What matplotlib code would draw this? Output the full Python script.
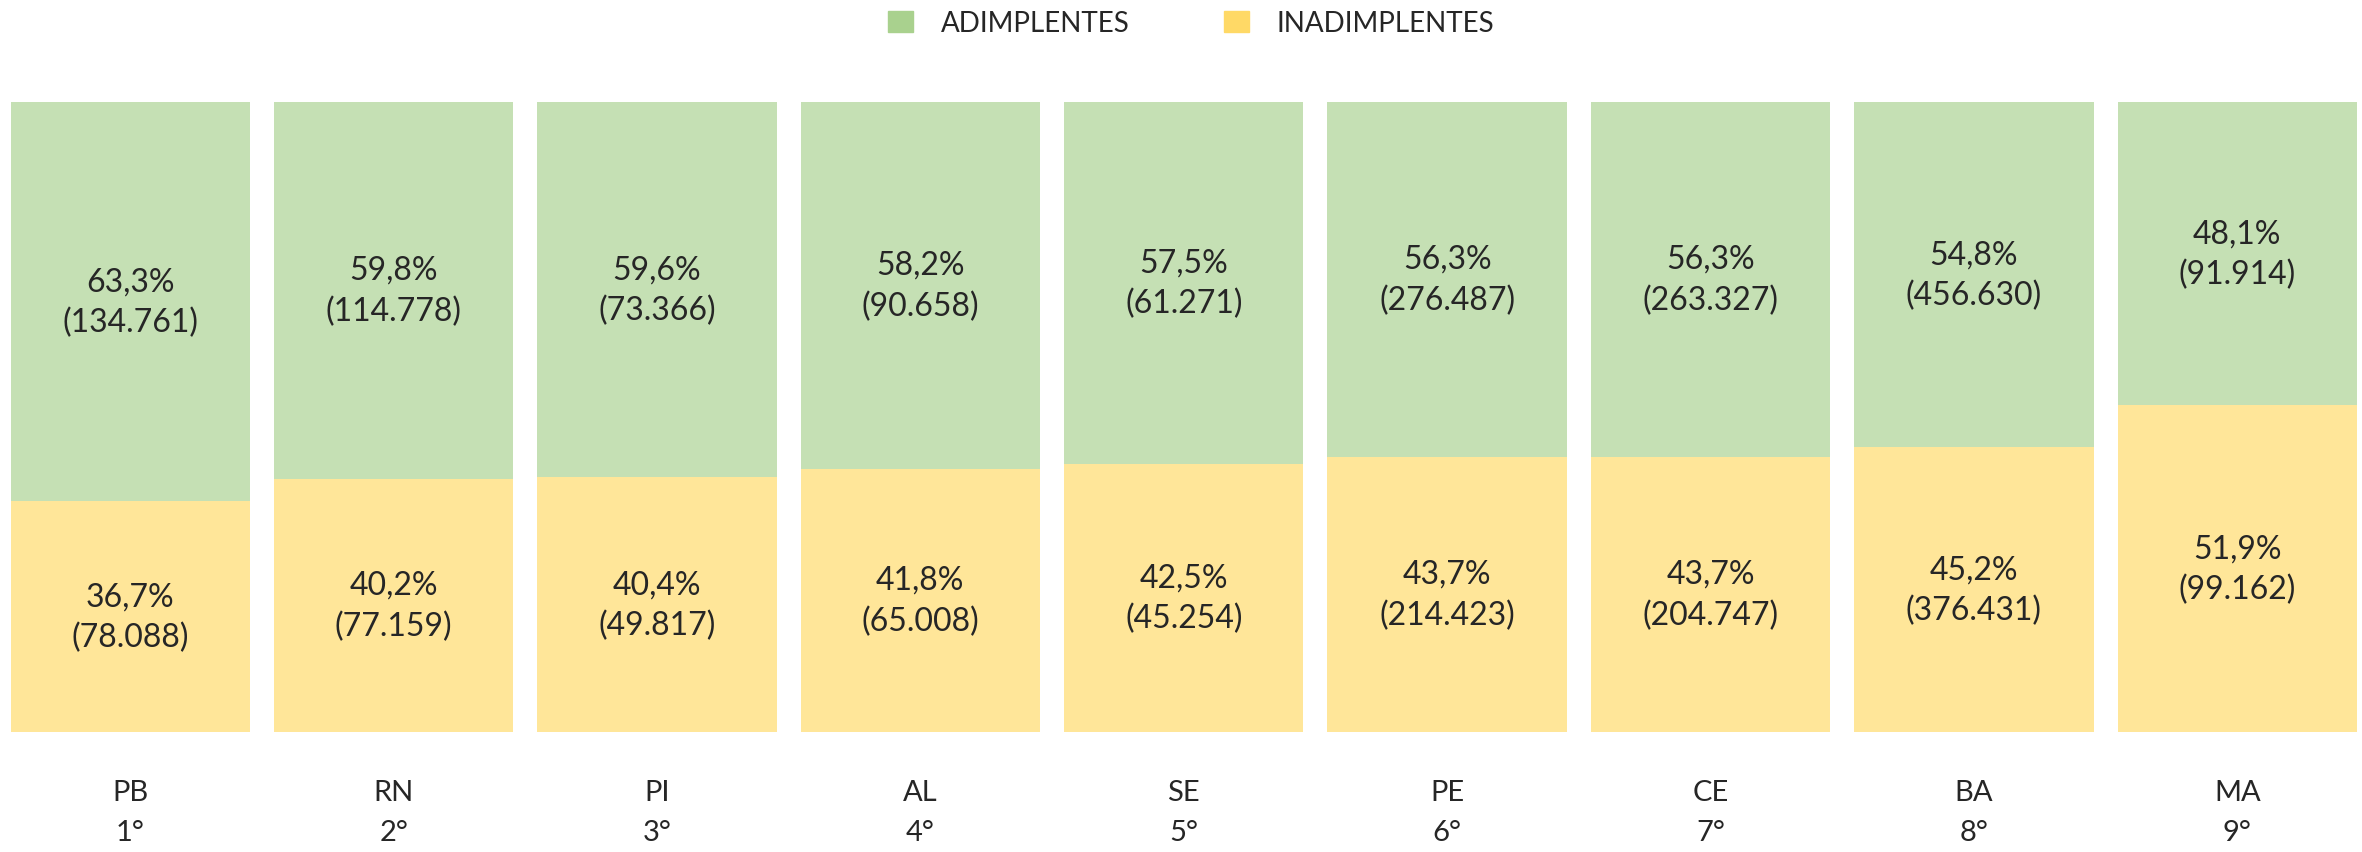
import matplotlib.pyplot as plt
import numpy as np
from matplotlib.patches import Patch

estados = ["PB", "RN", "PI", "AL", "SE", "PE", "CE", "BA", "MA"]
posicoes = ["1°", "2°", "3°", "4°", "5°", "6°", "7°", "8°", "9°"]
adimp_pct = [63.3, 59.8, 59.6, 58.2, 57.5, 56.3, 56.3, 54.8, 48.1]
inadimp_pct = [36.7, 40.2, 40.4, 41.8, 42.5, 43.7, 43.7, 45.2, 51.9]
adimp_n = [134761, 114778, 73366, 90658, 61271, 276487, 263327, 456630, 91914]
inadimp_n = [78088, 77159, 49817, 65008, 45254, 214423, 204747, 376431, 99162]

verde = "#C5E0B4"
amarelo = "#FFE699"
texto = "#262626"

plt.rcParams["font.family"] = ["Lato", "DejaVu Sans"]


def fmt_pct(v):
    return f"{v:.1f}%".replace(".", ",")


def fmt_n(v):
    return "(" + f"{v:,}".replace(",", ".") + ")"


fig = plt.figure(figsize=(23.62, 8.53), dpi=100)
ax = fig.add_axes([10.5 / 2362, 1 - 733 / 853, (2357 - 10.5) / 2362, 630 / 853])

x = np.arange(len(estados))
w = 0.909
ax.bar(x, inadimp_pct, width=w, color=amarelo)
ax.bar(x, adimp_pct, width=w, bottom=inadimp_pct, color=verde)

for i in range(len(estados)):
    ax.text(x[i], inadimp_pct[i] / 2, fmt_pct(inadimp_pct[i]) + "\n" + fmt_n(inadimp_n[i]),
            ha="center", va="center", fontsize=23, color=texto, linespacing=1.42)
    ax.text(x[i], inadimp_pct[i] + adimp_pct[i] / 2, fmt_pct(adimp_pct[i]) + "\n" + fmt_n(adimp_n[i]),
            ha="center", va="center", fontsize=23, color=texto, linespacing=1.42)

ax.set_xlim(-w / 2, len(estados) - 1 + w / 2)
ax.set_ylim(0, 100)
ax.set_xticks(x)
ax.set_xticklabels([f"{e}\n{p}" for e, p in zip(estados, posicoes)],
                   fontsize=21, color=texto, linespacing=1.65)
ax.tick_params(axis="x", length=0, pad=34)
ax.set_yticks([])
for s in ax.spines.values():
    s.set_visible(False)

handles = [Patch(color="#A9D18E", label="ADIMPLENTES"),
           Patch(color="#FFD966", label="INADIMPLENTES")]
fig.legend(handles=handles, loc="center", bbox_to_anchor=(0.5 + 10 / 2362, 1 - 24 / 853), ncol=2,
           frameon=False, fontsize=20, handlelength=0.9, handleheight=0.8,
           handletextpad=1.0, columnspacing=3.4, labelcolor=texto)

fig.savefig("out.png", dpi=100)
plt.close(fig)
